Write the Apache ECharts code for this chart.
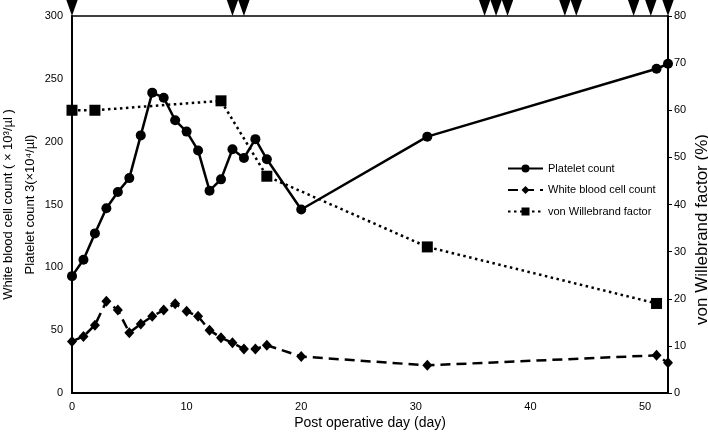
<!DOCTYPE html>
<html><head><meta charset="utf-8">
<script src="https://cdn.jsdelivr.net/npm/echarts@6/dist/echarts.min.js"></script>
<style>html,body{margin:0;padding:0;background:#fff}#c{width:708px;height:432px}</style>
</head><body><div id="c"></div>
<script>
const plateletDays = [0,1,2,3,4,5,6,7,8,9,10,11,12,13,14,15,16,17,20,31,51,52];
const plateletValues = [93,106,127,147,160,171,205,239,235,217,208,193,161,170,194,187,202,186,146,204,258,262];
const wbcDays = [0,1,2,3,4,5,6,7,8,9,10,11,12,13,14,15,16,17,20,31,51,52];
const wbcValues = [41,45,54,73,66,48,55,61,66,71,65,61,50,44,40,35,35,38,29,22,30,24];
const vwfDays = [0,2,13,17,31,51];
const vwfValues = [60,60,62,46,31,19];
const eventDays = [0,14,15,36,37,38,43,44,49,50.5,52];
const seriesNames = ['Platelet count','White blood cell count','von Willebrand factor'];
const leftTitle = 'White blood cell count ( × 10³/µl )\nPlatelet count 3(×10⁴/µl)';
const rightTitle = 'von Willebrand factor (%)';
const xTitle = 'Post operative day (day)';

const FF = '"Liberation Sans", Arial, sans-serif';
const zip = (xs, ys) => xs.map((x, i) => [x, ys[i]]);
const chart = echarts.init(document.getElementById('c'));
chart.setOption({
  animation: false,
  textStyle: {fontFamily: FF, color: '#000'},
  grid: {left: 72, right: 40, top: 16, bottom: 39, outerBoundsMode: 'none', containLabel: false,
    show: true, borderColor: '#000', borderWidth: 1.5, backgroundColor: 'transparent'},
  legend: {
    data: seriesNames, orient: 'vertical', left: 502, top: 158,
    itemWidth: 35, itemHeight: 10, itemGap: 10.5,
    textStyle: {fontSize: 11, color: '#000', fontFamily: FF}
  },
  xAxis: {
    type: 'value', min: 0, max: 52, interval: 10,
    axisLine: {lineStyle: {color: '#000', width: 2}},
    axisTick: {show: false}, splitLine: {show: false},
    axisLabel: {color: '#000', fontSize: 11, margin: 8, showMaxLabel: false, fontFamily: FF},
    name: xTitle, nameLocation: 'middle', nameGap: 23, nameMoveOverlap: false,
    nameTextStyle: {fontSize: 14, color: '#000', fontFamily: FF}
  },
  yAxis: [{
    type: 'value', min: 0, max: 300, interval: 50, position: 'left',
    axisLine: {show: true, lineStyle: {color: '#000', width: 2}},
    axisTick: {show: false}, splitLine: {show: false},
    axisLabel: {color: '#000', fontSize: 11, margin: 9, fontFamily: FF},
    name: leftTitle, nameLocation: 'middle', nameRotate: 90, nameGap: 31, nameMoveOverlap: false,
    nameTextStyle: {fontSize: 13, lineHeight: 22, color: '#000', fontFamily: FF}
  }, {
    type: 'value', min: 0, max: 80, interval: 10, position: 'right',
    axisLine: {show: true, lineStyle: {color: '#000', width: 2}},
    axisTick: {show: true, length: 4, lineStyle: {color: '#000', width: 1}},
    splitLine: {show: false},
    axisLabel: {color: '#000', fontSize: 11, margin: 6, fontFamily: FF},
    name: rightTitle, nameLocation: 'middle', nameRotate: 90, nameGap: 26, nameMoveOverlap: false,
    nameTextStyle: {fontSize: 17, color: '#000', fontFamily: FF, padding: [0, 50, 0, 0]}
  }],
  series: [{
    name: seriesNames[0], type: 'line', yAxisIndex: 0, data: zip(plateletDays, plateletValues),
    symbol: 'circle', symbolSize: 10, clip: false,
    lineStyle: {color: '#000', width: 2.5}, itemStyle: {color: '#000'}
  }, {
    name: seriesNames[1], type: 'line', yAxisIndex: 0, data: zip(wbcDays, wbcValues),
    symbol: 'diamond', symbolSize: [10, 11], clip: false,
    lineStyle: {color: '#000', width: 2.5, type: [10, 6]}, itemStyle: {color: '#000'}
  }, {
    name: seriesNames[2], type: 'line', yAxisIndex: 1, data: zip(vwfDays, vwfValues),
    symbol: 'rect', symbolSize: 11, clip: false,
    lineStyle: {color: '#000', width: 2.5, type: [2.5, 3.5]}, itemStyle: {color: '#000'}
  }, {
    name: 'events', type: 'scatter', yAxisIndex: 0, silent: true, clip: false,
    data: eventDays.map(d => [d, 300]),
    symbol: 'path://M0,0L10,0L5,12Z', symbolSize: [12, 17], symbolOffset: [0, -8.5],
    itemStyle: {color: '#000', opacity: 1}, z: 5
  }]
});
</script></body></html>
